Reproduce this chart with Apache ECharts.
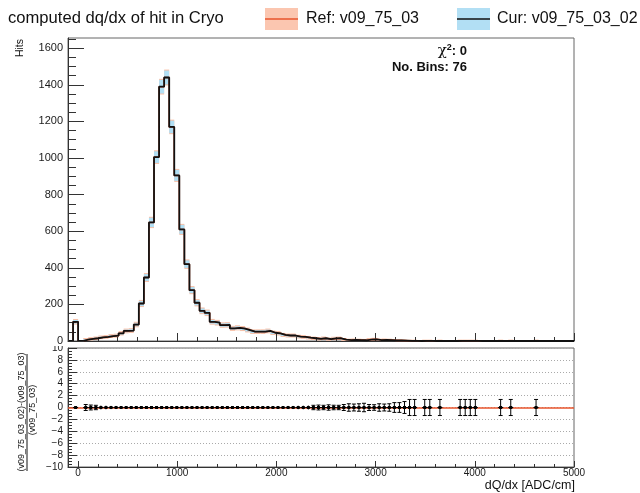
<!DOCTYPE html>
<html>
<head>
<meta charset="utf-8">
<title>computed dq/dx of hit in Cryo</title>
<script src="https://cdn.jsdelivr.net/npm/echarts@6/dist/echarts.min.js"></script>
<style>
    html, body { margin: 0; padding: 0; background: #fff; }
    #chart { width: 640px; height: 493px; }
</style>
</head>
<body>
<div id="chart"></div>
<script>
// binning: 100 bins from -100 to 5000
var binLow = -100;
var binWidth = 51;

// Ref and Cur are identical (chi2 = 0)
var refCounts = [
    0, 105, 0, 8, 12, 15, 20, 22, 27, 29,
    42, 55, 57, 90, 205, 347, 648, 1005, 1390, 1440,
    1170, 905, 610, 420, 278, 209, 165, 154, 105, 100,
    87, 88, 69, 72, 68, 60, 51, 51, 51, 55,
    45, 42, 33, 30, 30, 24, 22, 18, 15, 12,
    15, 10, 14, 15, 8, 5, 6, 5, 4, 8,
    9, 5, 6, 5, 3, 3, 2, 1, 1, 0,
    1, 1, 0, 1, 0, 0, 0, 1, 1, 1,
    1, 0, 0, 0, 0, 1, 0, 1, 0, 0,
    0, 0, 1, 0, 0, 0, 0, 0, 0, 0
];
var curCounts = refCounts.slice();

// half height of the error boxes in the top panel (Hits)
var bandErr = [
    0, 10, 0, 2.8, 3.5, 3.9, 4.5, 4.7, 5.2, 5.4,
    6.5, 7.4, 7.5, 9.5, 14, 18.6, 25.5, 31.7, 37.3, 37.9,
    34.2, 30.1, 24.7, 20.5, 16.7, 14.5, 12.8, 12.4, 10.2, 10,
    9.3, 9.4, 8.3, 8.5, 8.2, 7.7, 7.1, 7.1, 7.1, 7.4,
    6.7, 6.5, 5.7, 5.5, 5.5, 4.9, 4.7, 4.2, 3.9, 3.5,
    3.9, 3.2, 3.7, 3.9, 2.8, 2.2, 2.4, 2.2, 2, 2.8,
    3, 2.2, 2.4, 2.2, 1.7, 1.7, 1.4, 1, 1, 0,
    1, 1, 0, 1, 0, 0, 0, 1, 1, 1,
    1, 0, 0, 0, 0, 1, 0, 1, 0, 0,
    0, 0, 1, 0, 0, 0, 0, 0, 0, 0
];

// half height of the error bars in the ratio panel
var ratioErr = [
    0, 0.14, 0, 0.5, 0.41, 0.37, 0.32, 0.3, 0.27, 0.26,
    0.22, 0.19, 0.19, 0.15, 0.1, 0.08, 0.06, 0.045, 0.04, 0.04,
    0.04, 0.05, 0.06, 0.07, 0.085, 0.1, 0.11, 0.11, 0.14, 0.14,
    0.15, 0.15, 0.17, 0.17, 0.17, 0.18, 0.2, 0.2, 0.2, 0.19,
    0.21, 0.22, 0.25, 0.26, 0.26, 0.29, 0.3, 0.33, 0.37, 0.41,
    0.37, 0.45, 0.38, 0.37, 0.5, 0.63, 0.58, 0.63, 0.71, 0.5,
    0.47, 0.63, 0.58, 0.63, 0.82, 0.82, 1.0, 1.35, 1.35, 0,
    1.35, 1.35, 0, 1.35, 0, 0, 0, 1.35, 1.35, 1.35,
    1.35, 0, 0, 0, 0, 1.35, 0, 1.35, 0, 0,
    0, 0, 1.35, 0, 0, 0, 0, 0, 0, 0
];

var xMajor = [0, 1000, 2000, 3000, 4000, 5000];
var xMinorStep = 200;
var yTopMajor = [0, 200, 400, 600, 800, 1000, 1200, 1400, 1600];
var yTopMinorStep = 50;
var yBotMajor = [-10, -8, -6, -4, -2, 0, 2, 4, 6, 8, 10];
var yBotMinorStep = 0.5;

var titleText = 'computed dq/dx of hit in Cryo';
var refName = 'Ref: v09_75_03';
var curName = 'Cur: v09_75_03_02';
var xTitle = 'dQ/dx [ADC/cm]';
var yTitle = 'Hits';
var ratioNum = '(v09_75_03_02)-(v09_75_03)';
var ratioDen = '(v09_75_03)';
var chi2Value = '0';
var nBinsText = 'No. Bins: 76';

var FONT = '"Liberation Sans", Arial, Helvetica, sans-serif';
var xMin = -100, xMax = 5000;
var yTopMax = 1656;

function minorList(from, to, step, majors) {
    var out = [];
    for (var v = from; v <= to + 1e-9; v += step) {
        var r = Math.round(v * 100) / 100;
        if (majors.indexOf(r) < 0) { out.push(r); }
    }
    return out;
}
var xMinor = minorList(0, 5000, xMinorStep, xMajor);
var yTopMinor = minorList(0, 1650, yTopMinorStep, yTopMajor);
var yBotMinor = minorList(-10, 10, yBotMinorStep, yBotMajor);

// histogram step line, band boxes, ratio points
var stepData = [], bandData = [], ratioData = [];
for (var k = 0; k < refCounts.length; k++) {
    var lo = binLow + k * binWidth, hi = lo + binWidth;
    stepData.push([lo, curCounts[k]]);
    if (refCounts[k] > 0) {
        bandData.push([lo, hi, refCounts[k], bandErr[k]]);
        ratioData.push([lo, hi, (curCounts[k] - refCounts[k]) / refCounts[k], ratioErr[k]]);
    }
}
stepData.push([binLow + refCounts.length * binWidth, curCounts[refCounts.length - 1]]);

function bandItem(color, extra) {
    return function (params, api) {
        var p1 = api.coord([api.value(0), api.value(2) + api.value(3)]);
        var p2 = api.coord([api.value(1), api.value(2) - api.value(3)]);
        return {
            type: 'rect',
            shape: {x: p1[0], y: p1[1] - extra, width: p2[0] - p1[0], height: p2[1] - p1[1] + 2 * extra},
            style: {fill: color}
        };
    };
}

function ratioItem(params, api) {
    var lo = api.value(0), hi = api.value(1), r = api.value(2), e = api.value(3);
    var mid = (lo + hi) / 2;
    var c = api.coord([mid, r]);
    var pl = api.coord([lo, r]), ph = api.coord([hi, r]);
    var top = api.coord([mid, r + e])[1], bot = api.coord([mid, r - e])[1];
    var st = {stroke: '#000', lineWidth: 1};
    var kids = [
        {type: 'line', shape: {x1: pl[0], y1: c[1], x2: ph[0], y2: c[1]}, style: st},
        {type: 'line', shape: {x1: c[0], y1: top, x2: c[0], y2: bot}, style: st},
        {type: 'rect', shape: {x: c[0] - 1.5, y: c[1] - 1.5, width: 3, height: 3}, style: {fill: '#000'}}
    ];
    if (bot - top > 4) {
        kids.push({type: 'line', shape: {x1: c[0] - 2, y1: top, x2: c[0] + 2, y2: top}, style: st});
        kids.push({type: 'line', shape: {x1: c[0] - 2, y1: bot, x2: c[0] + 2, y2: bot}, style: st});
    }
    return {type: 'group', children: kids};
}

function tickAxis(opt) {
    var ax = {
        type: 'value',
        gridIndex: opt.grid,
        position: opt.position,
        min: opt.min,
        max: opt.max,
        z: opt.z || 2,
        axisLine: {show: !!opt.line, onZero: false, lineStyle: {color: '#333', width: 1}},
        axisTick: {show: true, inside: true, length: opt.len, customValues: opt.ticks,
            lineStyle: {color: '#333', width: 1}},
        axisLabel: {show: false},
        splitLine: {show: false}
    };
    if (opt.labels) {
        ax.axisLabel = {
            show: true,
            customValues: opt.labels,
            fontFamily: FONT,
            fontSize: opt.fontSize,
            color: '#1a1a1a',
            margin: opt.margin,
            formatter: function (v) { return String(v).replace('-', '\u2212'); }
        };
    }
    return ax;
}

var chart = echarts.init(document.getElementById('chart'), null, {renderer: 'canvas'});

var option = {
    animation: false,
    backgroundColor: '#fff',
    grid: [
        {left: 68, top: 38, width: 506, height: 303, show: true, borderColor: '#666', borderWidth: 1, backgroundColor: 'transparent'},
        {left: 68, top: 348, width: 506, height: 119, show: true, borderColor: '#666', borderWidth: 1, backgroundColor: 'transparent'}
    ],
    xAxis: [
        tickAxis({grid: 0, position: 'bottom', min: xMin, max: xMax, ticks: xMajor, len: 8, line: true}),
        tickAxis({grid: 0, position: 'bottom', min: xMin, max: xMax, ticks: xMinor, len: 4}),
        tickAxis({grid: 1, position: 'bottom', min: xMin, max: xMax, ticks: xMajor, len: 6, line: true,
            labels: xMajor, fontSize: 10, margin: 1}),
        tickAxis({grid: 1, position: 'bottom', min: xMin, max: xMax, ticks: xMinor, len: 3})
    ],
    yAxis: [
        tickAxis({grid: 0, position: 'left', min: 0, max: yTopMax, ticks: yTopMajor, len: 16, line: true,
            labels: yTopMajor, fontSize: 11, margin: 5, z: 10}),
        tickAxis({grid: 0, position: 'left', min: 0, max: yTopMax, ticks: yTopMinor, len: 8}),
        tickAxis({grid: 1, position: 'left', min: -10, max: 10, ticks: yBotMajor, len: 9, line: true,
            labels: yBotMajor, fontSize: 10, margin: 5, z: 1}),
        tickAxis({grid: 1, position: 'left', min: -10, max: 10, ticks: yBotMinor, len: 4}),
        {
            type: 'value', gridIndex: 1, min: -10, max: 10, interval: 2, z: 0,
            axisLine: {show: false}, axisTick: {show: false}, axisLabel: {show: false},
            splitLine: {show: true, lineStyle: {color: '#aaa', type: [1, 2], width: 1}}
        }
    ],
    series: [
        {
            name: 'refBand', type: 'custom', xAxisIndex: 0, yAxisIndex: 0, clip: true, z: 1,
            renderItem: bandItem('#f8bfa6', 1), data: bandData, silent: true
        },
        {
            name: 'curBand', type: 'custom', xAxisIndex: 0, yAxisIndex: 0, clip: true, z: 2,
            renderItem: bandItem('#b2dff4', 0), data: bandData, silent: true
        },
        {
            name: refName, type: 'line', xAxisIndex: 0, yAxisIndex: 0, step: 'end', symbol: 'none',
            data: stepData, lineStyle: {color: '#e8552d', width: 1.5}, z: 3, silent: true
        },
        {
            name: curName, type: 'line', xAxisIndex: 0, yAxisIndex: 0, step: 'end', symbol: 'none',
            data: stepData, lineStyle: {color: '#111', width: 1.8}, z: 4, silent: true
        },
        {
            name: 'refRatio', type: 'line', xAxisIndex: 2, yAxisIndex: 2, data: [], symbol: 'none', z: 3,
            markLine: {
                silent: true, symbol: 'none', label: {show: false},
                lineStyle: {color: '#e8552d', width: 1.5, type: 'solid'},
                data: [{yAxis: 0}]
            }
        },
        {
            name: 'ratio', type: 'custom', xAxisIndex: 2, yAxisIndex: 2, clip: true, z: 5,
            renderItem: ratioItem, data: ratioData, silent: true
        }
    ],
    graphic: [
        // the upper pad hides the top of the ratio panel's "10" label
        {type: 'rect', z: 5, shape: {x: 0, y: 300, width: 67, height: 46}, style: {fill: '#fff'}},
        {type: 'text', z: 20, x: 8, y: 18, style: {text: titleText, font: '16.6px ' + FONT, fill: '#111', verticalAlign: 'middle'}},
        {type: 'rect', z: 20, shape: {x: 265, y: 8, width: 33, height: 22}, style: {fill: '#fbc6b0'}},
        {type: 'line', z: 21, shape: {x1: 265, y1: 19, x2: 298, y2: 19}, style: {stroke: '#e8552d', lineWidth: 1.5}},
        {type: 'text', z: 20, x: 306, y: 19, style: {text: refName, font: '16px ' + FONT, fill: '#111', verticalAlign: 'middle'}},
        {type: 'rect', z: 20, shape: {x: 457, y: 8, width: 33, height: 22}, style: {fill: '#b2dff4'}},
        {type: 'line', z: 21, shape: {x1: 457, y1: 19, x2: 490, y2: 19}, style: {stroke: '#111', lineWidth: 1.5}},
        {type: 'text', z: 20, x: 497, y: 19, style: {text: curName, font: '16px ' + FONT, fill: '#111', verticalAlign: 'middle'}},
        {
            type: 'text', z: 20, x: 467, y: 51,
            style: {
                text: '{c|\u03c7}{s|2}{b|: ' + chi2Value + '}',
                align: 'right', verticalAlign: 'middle',
                rich: {
                    c: {font: '15px "DejaVu Serif", serif', fill: '#111', verticalAlign: 'bottom'},
                    s: {font: 'bold 9px ' + FONT, fill: '#111', verticalAlign: 'top', padding: [0, 0, 6, 0]},
                    b: {font: 'bold 13px ' + FONT, fill: '#111'}
                }
            }
        },
        {type: 'text', z: 20, x: 467, y: 67, style: {text: nBinsText, font: 'bold 13px ' + FONT, fill: '#111', align: 'right', verticalAlign: 'middle'}},
        {type: 'text', z: 20, x: 20, y: 39, rotation: Math.PI / 2, style: {text: yTitle, font: '10.5px ' + FONT, fill: '#111', align: 'right', verticalAlign: 'middle'}},
        {type: 'text', z: 20, x: 21.5, y: 412, rotation: Math.PI / 2, style: {text: ratioNum, font: '9px ' + FONT, fill: '#111', align: 'center', verticalAlign: 'middle'}},
        {type: 'line', z: 20, shape: {x1: 27, y1: 354, x2: 27, y2: 471}, style: {stroke: '#111', lineWidth: 1}},
        {type: 'text', z: 20, x: 33, y: 410, rotation: Math.PI / 2, style: {text: ratioDen, font: '9px ' + FONT, fill: '#111', align: 'center', verticalAlign: 'middle'}},
        {type: 'text', z: 20, x: 575, y: 486, style: {text: xTitle, font: '12.5px ' + FONT, fill: '#111', align: 'right', verticalAlign: 'middle'}}
    ]
};

chart.setOption(option);
</script>
</body>
</html>
